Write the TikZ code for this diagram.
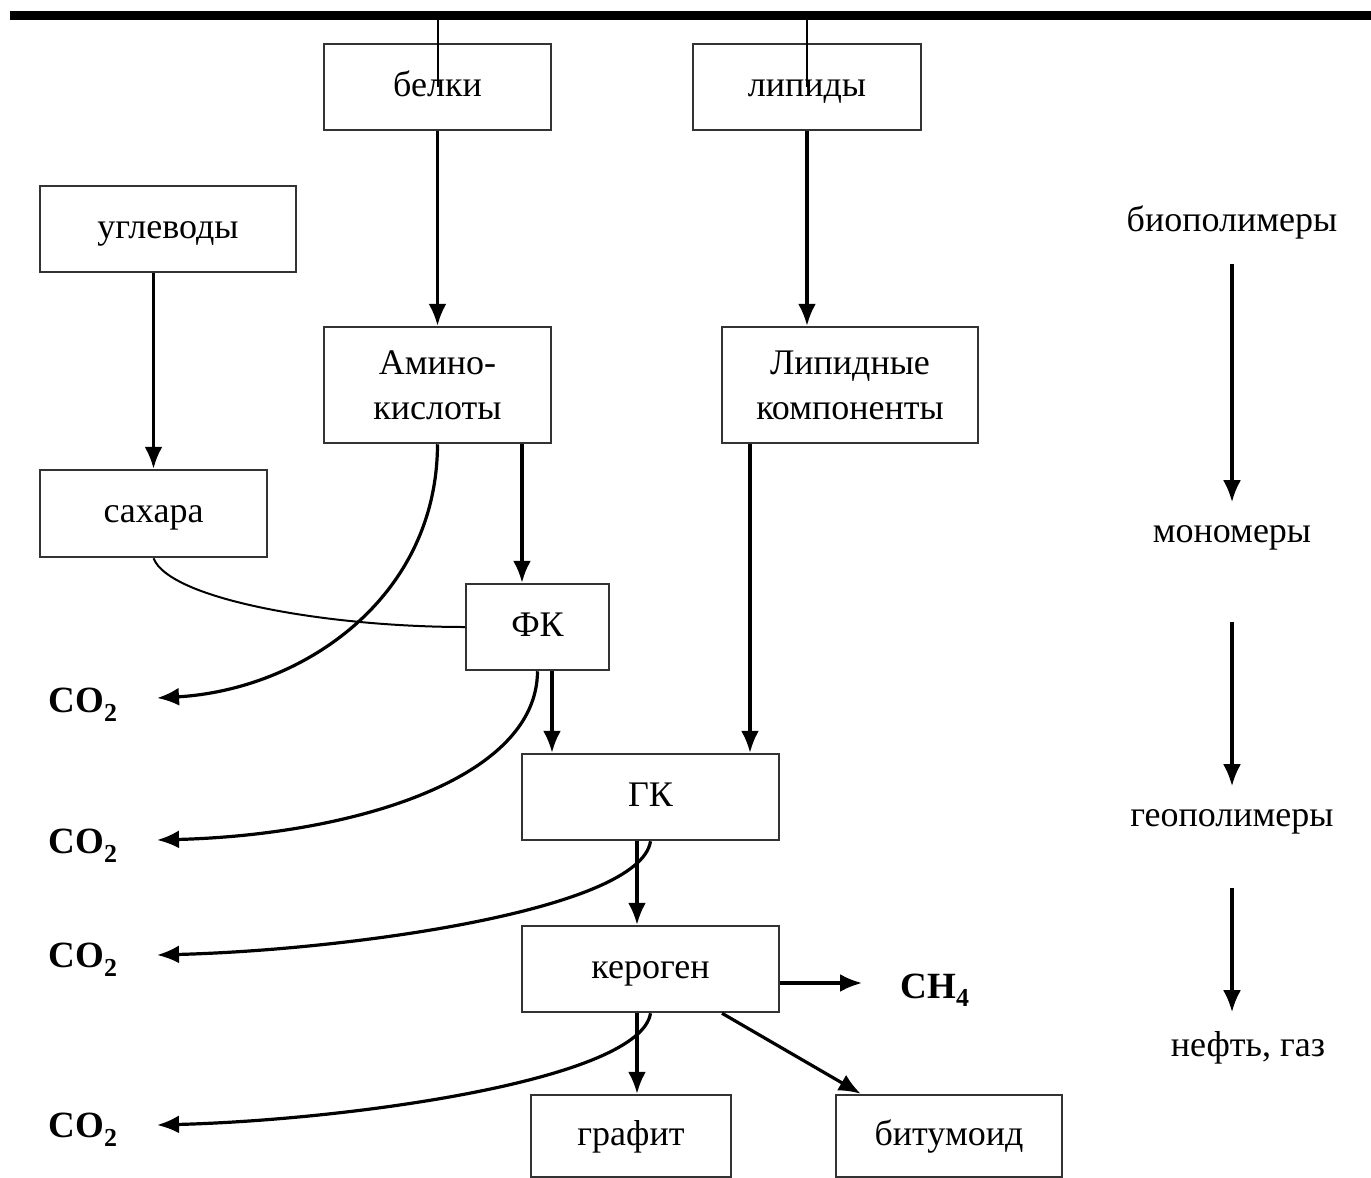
\documentclass[tikz,border=0pt]{standalone}
\usepackage{fontspec}
\setmainfont{Liberation Serif}
\usetikzlibrary{arrows.meta}
\begin{document}
\begin{tikzpicture}[x=1pt,y=-1pt,
 box2/.style={draw=black!80, line width=2.5pt, inner sep=0pt, font=\fontsize{36}{45}\selectfont, align=center},
 box/.style={box2, execute at begin node=\strut},
 arr/.style={line width=3.2pt, -{Latex[length=22pt,width=18pt]}},
 ln/.style={line width=2pt},
 lbl/.style={font=\fontsize{36}{45}\selectfont},
 chem/.style={font=\fontsize{37}{45}\selectfont\bfseries}]
\useasboundingbox (0,0) rectangle (1371,1178);
% top bar
\coordinate (barL) at (10,15);
\coordinate (barR) at (1371,15);
\draw[line width=9pt] (barL) -- (barR);
% boxes
\node[box, minimum width=227pt, minimum height=86pt] (belki) at (437.5,87) {белки};
\node[box, minimum width=228pt, minimum height=86pt] (lipidy) at (807,87) {липиды};
\node[box, minimum width=256pt, minimum height=86pt] (ugl) at (168,229) {углеводы};
\node[box, minimum width=227pt, minimum height=87pt] (sah) at (153.5,513.5) {сахара};
\node[box2, minimum width=227pt, minimum height=116pt] (amino) at (437.5,385) {Амино-\\кислоты};
\node[box2, minimum width=256pt, minimum height=116pt] (lip) at (850,385) {Липидные\\компоненты};
\node[box, minimum width=143pt, minimum height=86pt] (fk) at (537.5,627) {ФК};
\node[box, minimum width=257pt, minimum height=86pt] (gk) at (650.5,797) {ГК};
\node[box, minimum width=257pt, minimum height=86pt] (ker) at (650.5,969) {кероген};
\node[box, minimum width=200pt, minimum height=82pt] (graf) at (631,1136) {графит};
\node[box, minimum width=226pt, minimum height=82pt] (bit) at (949,1136) {битумоид};
% labels
\node[chem] (co1) at (83,705) {CO\textsubscript{\raisebox{-0.12em}{2}}};
\node[chem] (co2) at (83,846) {CO\textsubscript{\raisebox{-0.12em}{2}}};
\node[chem] (co3) at (83,960) {CO\textsubscript{\raisebox{-0.12em}{2}}};
\node[chem] (co4) at (83,1130) {CO\textsubscript{\raisebox{-0.12em}{2}}};
\node[chem] (ch4) at (935,990) {CH\textsubscript{\raisebox{-0.12em}{4}}};
\node[lbl] (bio) at (1232,222) {биополимеры};
\node[lbl] (mono) at (1232,538) {мономеры};
\node[lbl] (geo) at (1232,822) {геополимеры};
\node[lbl] (neft) at (1248,1048) {нефть, газ};
% tips
\coordinate (t1) at (157,698);
\coordinate (t2) at (157,840);
\coordinate (t3) at (157,955);
\coordinate (t4) at (157,1125);
\coordinate (tch) at (862,983);
% helper points
\path (fk.north) ++(-15.5,0) coordinate (fkin);
\path (fk.south) ++(14.5,0) coordinate (fkout);
\path (lip.south) ++(-100,0) coordinate (lipout);
\path (gk.south) ++(-13.5,0) coordinate (gkout);
\path (ker.south) ++(-13.5,0) coordinate (kerout);
\path (ker.south) ++(71.5,0) coordinate (kerdiag);
\path (bit.north west) ++(26,0) coordinate (bittip);
\path (ker.east) ++(0,14) coordinate (kerch);
% connectors
\draw[ln] (belki.center |- barL) -- (belki.center);
\draw[ln] (lipidy.center |- barL) -- (lipidy.center);
\draw[arr] (belki.south) -- (amino.north);
\draw[arr] (lipidy.south) -- (lipidy.south |- lip.north);
\draw[arr] (sah.north |- ugl.south) -- (sah.north);
\draw[arr] (fkin |- amino.south) -- (fkin);
\draw[ln] (sah.south) .. controls (170,600) and (330,627) .. (fk.west);
\draw[arr] (amino.south) .. controls (437,600) and (300,690) .. (t1);
\draw[arr] (fkout) -- (fkout |- gk.north);
\draw[arr] (fk.south) .. controls (537,780) and (350,835) .. (t2);
\draw[arr] (lipout) -- (lipout |- gk.north);
\draw[arr] (gkout) -- (gkout |- ker.north);
\draw[arr] (gk.south) .. controls (640,910) and (350,950) .. (t3);
\draw[arr] (kerout) -- (kerout |- graf.north);
\draw[arr] (ker.south) .. controls (640,1080) and (350,1120) .. (t4);
\draw[arr] (kerdiag) -- (bittip);
\draw[arr] (kerch) -- (tch);
\draw[arr, shorten <=22pt, shorten >=20pt] (bio.south) -- (mono.north);
\draw[arr, shorten <=68pt, shorten >=20pt] (mono.south) -- (geo.north);
\draw[arr, shorten <=50pt, shorten >=16pt] (geo.south) -- (geo.south |- neft.north);
\end{tikzpicture}
\end{document}
